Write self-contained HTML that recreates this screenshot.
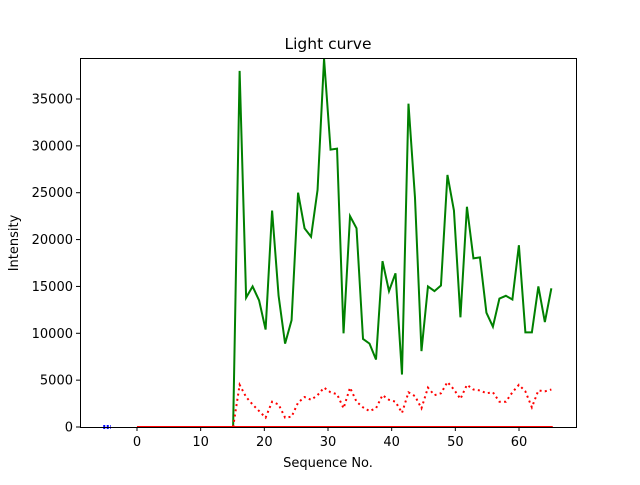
<!DOCTYPE html>
<html><head><meta charset="utf-8"><style>
body{margin:0;background:#fff;font-family:"Liberation Sans","DejaVu Sans",sans-serif}
svg text{font-family:"DejaVu Sans","Liberation Sans",sans-serif;font-size:13px;fill:#000}
</style></head><body>
<svg id="chart" width="640" height="480" xmlns="http://www.w3.org/2000/svg">
<rect width="640" height="480" fill="#fff"/>
<g id="plot"></g>
<rect x="80.5" y="58.5" width="496" height="369" fill="none" stroke="#000" stroke-width="1"/>
<text x="328" y="49" text-anchor="middle" style="font-size:15.5px">Light curve</text>
<text x="328" y="467" text-anchor="middle">Sequence No.</text>
<text transform="translate(18,243) rotate(-90)" text-anchor="middle">Intensity</text>
<g id="ticks"></g>
</svg>
<script>
const seriesStart = 15.1;
const seriesStep = 1.02;
const greenValues = [0,38000,13800,15000,13500,10400,23100,14000,8900,11400,25000,21200,20300,25300,39300,29600,29700,10000,22500,21200,9400,8900,7200,17700,14500,16400,5600,34500,24500,8100,15000,14500,15100,26900,23100,11700,23500,18000,18100,12200,10700,13700,14000,13600,19400,10100,10100,15000,11200,14800];
const redDotValues = [0,4500,3200,2400,1700,1000,2700,2400,1000,1100,2600,3200,2900,3400,4200,3700,3500,2000,4200,2700,2100,1700,2000,3400,2900,2700,1500,3700,3300,2000,4200,3400,3600,4800,4000,3000,4500,4000,3900,3600,3700,2700,2700,3700,4500,3800,2100,3900,3800,4000];
const redBaseX = [0,65.3];
const blueX = [-5.3,-4.1];
const xTicks = [0,10,20,30,40,50,60];
const yTicks = [0,5000,10000,15000,20000,25000,30000,35000];
const X0=80,X1=576,Y0=427,Y1=58,xmin=-8.95,xmax=68.95,ymin=0,ymax=39376;
const sx=v=>X0+(v-xmin)/(xmax-xmin)*(X1-X0);
const sy=v=>Y0-(v-ymin)/(ymax-ymin)*(Y0-Y1);
const NS="http://www.w3.org/2000/svg";
const plot=document.getElementById('plot'), ticks=document.getElementById('ticks');
function mk(tag,attrs,parent){const e=document.createElementNS(NS,tag);for(const k in attrs)e.setAttribute(k,attrs[k]);parent.appendChild(e);return e;}
const xAt=i=>seriesStart+i*seriesStep;
let gPts=[[0,0]];
greenValues.forEach((v,i)=>gPts.push([xAt(i),v]));
let p=mk('polyline',{points:gPts.map(q=>sx(q[0])+','+sy(q[1])).join(' '),fill:'none',stroke:'#008000','stroke-width':2},plot);


let rb=mk('polyline',{points:redBaseX.map(x=>sx(x)+','+sy(0)).join(' '),fill:'none',stroke:'#ff0000','stroke-width':2},plot);


let rPts=redDotValues.map((v,i)=>sx(xAt(i))+','+sy(v));
let rd=mk('polyline',{points:rPts.join(' '),fill:'none',stroke:'#ff0000','stroke-width':2,'stroke-dasharray':'2,3.3'},plot);


let bl=mk('polyline',{points:blueX.map(x=>sx(x)+','+sy(0)).join(' '),fill:'none',stroke:'#0000ff','stroke-width':4,'stroke-dasharray':'2,1.5'},plot);


xTicks.forEach(t=>{const x=sx(t);
 let l=mk('line',{x1:x,x2:x,y1:427,y2:431,stroke:'#000'},ticks);
 
 
 let tx=mk('text',{x:x,y:446,'text-anchor':'middle'},ticks);tx.textContent=t;
 
 
});
yTicks.forEach(t=>{const y=sy(t);
 let l=mk('line',{x1:76,x2:80,y1:y,y2:y,stroke:'#000'},ticks);
 
 
 let tx=mk('text',{x:73,y:y+4.5,'text-anchor':'end'},ticks);tx.textContent=t;
 
 
});
</script>
</body></html>
